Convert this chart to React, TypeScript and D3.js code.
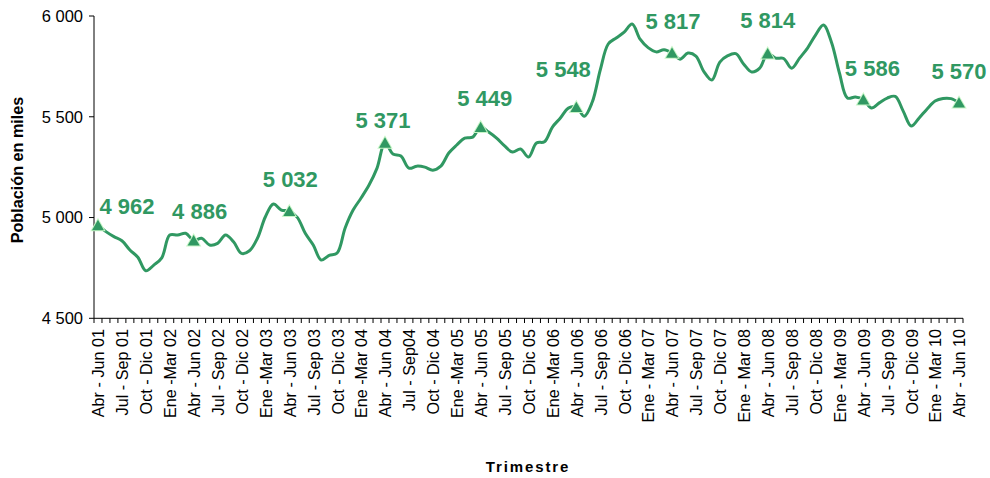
import React from "react";
import * as d3 from "d3";

const tickLabels = [
  "Abr - Jun 01", "Jul - Sep 01", "Oct - Dic 01", "Ene -Mar 02",
  "Abr - Jun 02", "Jul - Sep 02", "Oct - Dic 02", "Ene -Mar 03",
  "Abr - Jun 03", "Jul - Sep 03", "Oct - Dic 03", "Ene -Mar 04",
  "Abr - Jun 04", "Jul - Sep04", "Oct - Dic 04", "Ene -Mar 05",
  "Abr - Jun 05", "Jul - Sep 05", "Oct - Dic 05", "Ene -Mar 06",
  "Abr - Jun 06", "Jul - Sep 06", "Oct - Dic 06", "Ene - Mar 07",
  "Abr - Jun 07", "Jul - Sep 07", "Oct - Dic 07", "Ene - Mar 08",
  "Abr - Jun 08", "Jul - Sep 08", "Oct - Dic 08", "Ene - Mar 09",
  "Abr - Jun 09", "Jul - Sep 09", "Oct - Dic 09", "Ene - Mar 10",
  "Abr - Jun 10",
];

// monthly rolling-quarter values (thousands)
const values = [
  4962, 4930, 4905, 4885, 4839, 4803, 4736, 4764, 4800, 4913, 4913, 4922,
  4886, 4897, 4864, 4872, 4913, 4880, 4822, 4835, 4897, 5004, 5067, 5037,
  5032, 5001, 4922, 4864, 4789, 4812, 4824, 4948, 5037, 5097, 5161, 5245,
  5371, 5315, 5305, 5245, 5255, 5250, 5235, 5255, 5320, 5360, 5394, 5399,
  5449, 5424, 5394, 5355, 5325, 5340, 5300, 5370, 5376, 5449, 5494, 5543,
  5548, 5503, 5573, 5732, 5861, 5891, 5920, 5960, 5885, 5843, 5822, 5833,
  5817, 5786, 5816, 5801, 5724, 5682, 5771, 5803, 5813, 5761, 5722, 5741,
  5814, 5791, 5789, 5741, 5791, 5841, 5905, 5955, 5870, 5717, 5593, 5598,
  5586, 5544, 5569, 5593, 5601, 5528, 5454, 5494, 5539, 5578, 5591, 5590,
  5570,
];

const markerIndices = [0, 12, 24, 36, 48, 60, 72, 84, 96, 108];
// label offsets (dx, dy) relative to marker
const labelOffsets: [number, number][] = [
  [29, -11], [6, -22], [1, -24], [-2, -15], [4, -21],
  [-13, -30], [1, -24], [0, -25], [9, -23], [0, -24],
];
const yTicks = [4500, 5000, 5500, 6000];

const GREEN = "#309862";
const FONT = "'Liberation Sans', Arial, sans-serif";

const fmt = (v: number) => {
  const s = String(Math.round(v));
  return s.length > 3 ? s.slice(0, s.length - 3) + " " + s.slice(-3) : s;
};

export default function App() {
  const W = 990, H = 478;
  const x = d3.scaleBand<number>().domain(d3.range(values.length)).range([94, 963]).padding(0);
  const bw = x.bandwidth();
  const cx = (i: number) => (x(i) as number) + bw / 2;
  const y = d3.scaleLinear().domain([4500, 6000]).range([318.3, 16]);

  const line = d3.line<number>()
    .x((_, i) => cx(i))
    .y((d) => y(d))
    .curve(d3.curveCatmullRom.alpha(0.5));

  const tri = d3.symbol().type(d3.symbolTriangle).size(62)();
  const tickXs = d3.range(values.length + 1).map((i) => 94 + i * bw);

  return (
    <svg width={W} height={H} style={{ position: "absolute", left: 0, top: 0, background: "#fff" }}
      fontFamily={FONT}>
      {/* y axis */}
      <line x1={94} x2={94} y1={16} y2={318.3} stroke="#000" strokeWidth={1} />
      {yTicks.map((t) => (
        <g key={t}>
          <line x1={89} x2={94} y1={y(t)} y2={y(t)} stroke="#000" />
          <text x={83} y={y(t)} dy="0.36em" textAnchor="end" fontSize={16.5} fill="#000">{fmt(t)}</text>
        </g>
      ))}
      {/* x axis */}
      <line x1={94} x2={963} y1={318.3} y2={318.3} stroke="#000" />
      {tickXs.map((tx, i) => (
        <line key={i} x1={tx} x2={tx} y1={318.3} y2={323} stroke="#000" />
      ))}
      {tickLabels.map((lab, k) => {
        const px = cx(k * 3);
        return (
          <text key={lab + k} transform={`translate(${px + 0.5},329) rotate(-90)`} dy="0.36em"
            textAnchor="end" fontSize={16.2} fill="#000">{lab}</text>
        );
      })}
      {/* titles */}
      <text transform="translate(23,170) rotate(-90)" textAnchor="middle" fontSize={16.2}
        fontWeight="bold" fill="#000">Población en miles</text>
      <text x={528} y={472} textAnchor="middle" fontSize={15} fontWeight="bold" letterSpacing={1.9}
        fill="#000">Trimestre</text>
      {/* line */}
      <path d={line(values) || ""} fill="none" stroke={GREEN} strokeWidth={3} strokeLinejoin="round" />
      {markerIndices.map((i, k) => (
        <g key={i}>
          <path d={tri || ""} transform={`translate(${cx(i)},${y(values[i]) + 1.5})`} fill={GREEN}
            stroke="#c6f5c6" strokeWidth={2} paintOrder="stroke" />
          <text x={cx(i) + labelOffsets[k][0]} y={y(values[i]) + labelOffsets[k][1]} textAnchor="middle"
            fontSize={22} fontWeight="bold" fill={GREEN}>{fmt(values[i])}</text>
        </g>
      ))}
    </svg>
  );
}
